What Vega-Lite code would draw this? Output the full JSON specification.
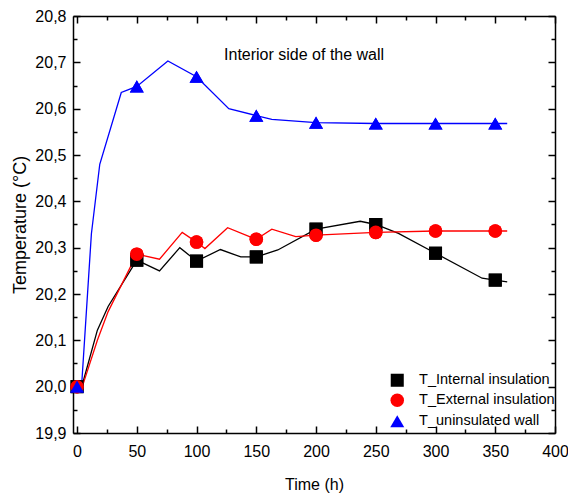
{
  "$schema": "https://vega.github.io/schema/vega-lite/v6.json",
  "width": 482,
  "height": 417,
  "autosize": {"type": "none"},
  "padding": {"left": 73, "top": 16, "right": 13, "bottom": 61},
  "background": "white",
  "config": {
    "view": {"stroke": null},
    "font": "Liberation Sans",
    "axis": {
      "grid": false,
      "domainColor": "black",
      "domainWidth": 1.5,
      "tickColor": "black",
      "tickWidth": 1.5,
      "labelColor": "black",
      "labelFont": "Liberation Sans",
      "labelFontSize": 16,
      "titleFont": "Liberation Sans",
      "titleFontSize": 16,
      "titleFontWeight": "normal",
      "titleColor": "black"
    },
    "legend": {
      "orient": "none",
      "legendX": 317,
      "legendY": 357,
      "symbolSize": 196,
      "symbolStrokeWidth": 0,
      "labelFont": "Liberation Sans",
      "labelFontSize": 14.5,
      "labelColor": "black",
      "labelOffset": 14.6,
      "rowPadding": 5
    }
  },
  "datasets": {
    "series": [
      {"series": "T_Internal insulation", "time": 0, "temp": 20.0, "marker": true},
      {"series": "T_Internal insulation", "time": 5, "temp": 20.01, "marker": false},
      {"series": "T_Internal insulation", "time": 17, "temp": 20.122, "marker": false},
      {"series": "T_Internal insulation", "time": 26, "temp": 20.173, "marker": false},
      {"series": "T_Internal insulation", "time": 50, "temp": 20.273, "marker": true},
      {"series": "T_Internal insulation", "time": 69, "temp": 20.25, "marker": false},
      {"series": "T_Internal insulation", "time": 86, "temp": 20.3, "marker": false},
      {"series": "T_Internal insulation", "time": 100, "temp": 20.271, "marker": true},
      {"series": "T_Internal insulation", "time": 120, "temp": 20.296, "marker": false},
      {"series": "T_Internal insulation", "time": 137, "temp": 20.28, "marker": false},
      {"series": "T_Internal insulation", "time": 150, "temp": 20.28, "marker": true},
      {"series": "T_Internal insulation", "time": 168, "temp": 20.295, "marker": false},
      {"series": "T_Internal insulation", "time": 200, "temp": 20.34, "marker": true},
      {"series": "T_Internal insulation", "time": 237, "temp": 20.357, "marker": false},
      {"series": "T_Internal insulation", "time": 250, "temp": 20.35, "marker": true},
      {"series": "T_Internal insulation", "time": 269, "temp": 20.331, "marker": false},
      {"series": "T_Internal insulation", "time": 300, "temp": 20.288, "marker": true},
      {"series": "T_Internal insulation", "time": 339, "temp": 20.234, "marker": false},
      {"series": "T_Internal insulation", "time": 350, "temp": 20.23, "marker": true},
      {"series": "T_Internal insulation", "time": 360, "temp": 20.226, "marker": false},
      {"series": "T_External insulation", "time": 0, "temp": 20.0, "marker": true},
      {"series": "T_External insulation", "time": 5, "temp": 20.005, "marker": false},
      {"series": "T_External insulation", "time": 17, "temp": 20.1, "marker": false},
      {"series": "T_External insulation", "time": 26, "temp": 20.162, "marker": false},
      {"series": "T_External insulation", "time": 50, "temp": 20.286, "marker": true},
      {"series": "T_External insulation", "time": 69, "temp": 20.275, "marker": false},
      {"series": "T_External insulation", "time": 88, "temp": 20.333, "marker": false},
      {"series": "T_External insulation", "time": 100, "temp": 20.312, "marker": true},
      {"series": "T_External insulation", "time": 107, "temp": 20.298, "marker": false},
      {"series": "T_External insulation", "time": 126, "temp": 20.343, "marker": false},
      {"series": "T_External insulation", "time": 150, "temp": 20.318, "marker": true},
      {"series": "T_External insulation", "time": 163, "temp": 20.34, "marker": false},
      {"series": "T_External insulation", "time": 183, "temp": 20.324, "marker": false},
      {"series": "T_External insulation", "time": 200, "temp": 20.327, "marker": true},
      {"series": "T_External insulation", "time": 250, "temp": 20.333, "marker": true},
      {"series": "T_External insulation", "time": 300, "temp": 20.336, "marker": true},
      {"series": "T_External insulation", "time": 350, "temp": 20.336, "marker": true},
      {"series": "T_External insulation", "time": 360, "temp": 20.336, "marker": false},
      {"series": "T_uninsulated wall", "time": 0, "temp": 20.0, "marker": true},
      {"series": "T_uninsulated wall", "time": 4, "temp": 20.01, "marker": false},
      {"series": "T_uninsulated wall", "time": 12, "temp": 20.33, "marker": false},
      {"series": "T_uninsulated wall", "time": 19, "temp": 20.48, "marker": false},
      {"series": "T_uninsulated wall", "time": 37, "temp": 20.635, "marker": false},
      {"series": "T_uninsulated wall", "time": 42, "temp": 20.64, "marker": false},
      {"series": "T_uninsulated wall", "time": 50, "temp": 20.648, "marker": true},
      {"series": "T_uninsulated wall", "time": 76, "temp": 20.703, "marker": false},
      {"series": "T_uninsulated wall", "time": 100, "temp": 20.669, "marker": true},
      {"series": "T_uninsulated wall", "time": 127, "temp": 20.6, "marker": false},
      {"series": "T_uninsulated wall", "time": 150, "temp": 20.585, "marker": true},
      {"series": "T_uninsulated wall", "time": 163, "temp": 20.577, "marker": false},
      {"series": "T_uninsulated wall", "time": 200, "temp": 20.57, "marker": true},
      {"series": "T_uninsulated wall", "time": 250, "temp": 20.568, "marker": true},
      {"series": "T_uninsulated wall", "time": 300, "temp": 20.568, "marker": true},
      {"series": "T_uninsulated wall", "time": 350, "temp": 20.568, "marker": true},
      {"series": "T_uninsulated wall", "time": 360, "temp": 20.568, "marker": false}
    ],
    "note": [{"label": "Interior side of the wall"}]
  },
  "layer": [
    {
      "data": {"name": "series"},
      "transform": [{"filter": "datum.marker"}],
      "mark": {"type": "point", "filled": true, "opacity": 1},
      "encoding": {
        "x": {
          "field": "time", "type": "quantitative",
          "scale": {"domain": [-3.4, 400], "nice": false, "zero": false},
          "axis": {
            "orient": "top",
            "title": null,
            "labels": false,
            "values": [0, 25, 50, 75, 100, 125, 150, 175, 200, 225, 250, 275, 300, 325, 350, 375, 400],
            "tickSize": {"condition": {"test": "datum.value % 50 == 0", "value": -7}, "value": -4}
          }
        },
        "y": {
          "field": "temp", "type": "quantitative",
          "scale": {"domain": [19.9, 20.8], "nice": false, "zero": false},
          "axis": {
            "orient": "right",
            "title": null,
            "labels": false,
            "values": [19.9, 19.95, 20.0, 20.05, 20.1, 20.15, 20.2, 20.25, 20.3, 20.35, 20.4, 20.45, 20.5, 20.55, 20.6, 20.65, 20.7, 20.75, 20.8],
            "tickSize": {"condition": {"test": "round(datum.value * 20) % 2 == 0", "value": -7}, "value": -4}
          }
        },
        "color": {
          "field": "series", "type": "nominal",
          "scale": {"domain": ["T_Internal insulation", "T_External insulation", "T_uninsulated wall"], "range": ["#000000", "#ff0000", "#0000ff"]},
          "legend": {
            "title": null,
            "encode": {
              "symbols": {
                "size": {"value": 196},
                "strokeWidth": {"value": 0},
                "shape": {"value": {"expr": "datum.value === 'T_Internal insulation' ? 'M-2.33,-0.1H2.33V0.1H-2.33Z M-0.7,-0.7H0.7V0.7H-0.7Z' : datum.value === 'T_External insulation' ? 'M-2.33,-0.1H2.33V0.1H-2.33Z M-0.85,0A0.85,0.85 0 1,1 0.85,0A0.85,0.85 0 1,1 -0.85,0Z' : 'M-2.33,-0.1H2.33V0.1H-2.33Z M0,-0.85L1,0.75L-1,0.75Z'"}}
              }
            }
          }
        },
        "shape": {
          "field": "series", "type": "nominal",
          "scale": {"domain": ["T_Internal insulation", "T_External insulation", "T_uninsulated wall"], "range": ["square", "circle", "triangle-up"]}
        },
        "size": {
          "field": "series", "type": "nominal",
          "scale": {"domain": ["T_Internal insulation", "T_External insulation", "T_uninsulated wall"], "range": [170, 196, 256]}
        }
      }
    },
    {
      "data": {"name": "series"},
      "mark": {"type": "line", "strokeWidth": 1.3, "interpolate": "linear"},
      "encoding": {
        "x": {
          "field": "time", "type": "quantitative",
          "axis": {
            "orient": "bottom",
            "title": "Time (h)",
            "values": [0, 25, 50, 75, 100, 125, 150, 175, 200, 225, 250, 275, 300, 325, 350, 375, 400],
            "labelExpr": "datum.value % 50 == 0 ? datum.label : ''",
            "tickSize": {"condition": {"test": "datum.value % 50 == 0", "value": -7}, "value": -4},
            "labelPadding": 17,
            "labelFlush": false,
            "titleY": 56,
            "titleBaseline": "alphabetic"
          }
        },
        "y": {
          "field": "temp", "type": "quantitative",
          "axis": {
            "orient": "left",
            "title": "Temperature (°C)",
            "titleFontSize": 18,
            "values": [19.9, 19.95, 20.0, 20.05, 20.1, 20.15, 20.2, 20.25, 20.3, 20.35, 20.4, 20.45, 20.5, 20.55, 20.6, 20.65, 20.7, 20.75, 20.8],
            "labelExpr": "round(datum.value * 20) % 2 == 0 ? replace(format(datum.value, '.1f'), '.', ',') : ''",
            "tickSize": {"condition": {"test": "round(datum.value * 20) % 2 == 0", "value": -7}, "value": -4},
            "labelPadding": 14,
            "labelFlush": false,
            "titleX": -48,
            "titleBaseline": "alphabetic"
          }
        },
        "color": {
          "field": "series", "type": "nominal",
          "legend": {"title": null}
        }
      }
    },
    {
      "data": {"name": "series"},
      "transform": [{"filter": "datum.marker"}],
      "mark": {"type": "point", "filled": true, "opacity": 1},
      "encoding": {
        "x": {"field": "time", "type": "quantitative", "axis": null},
        "y": {"field": "temp", "type": "quantitative", "axis": null},
        "color": {"field": "series", "type": "nominal", "legend": {"title": null}},
        "shape": {"field": "series", "type": "nominal"},
        "size": {"field": "series", "type": "nominal"}
      }
    },
    {
      "data": {"name": "note"},
      "mark": {"type": "text", "font": "Liberation Sans", "fontSize": 16, "color": "black", "align": "center", "baseline": "alphabetic"},
      "encoding": {
        "x": {"datum": 190, "type": "quantitative", "axis": null},
        "y": {"datum": 20.705, "type": "quantitative", "axis": null},
        "text": {"field": "label", "type": "nominal"}
      }
    }
  ],
  "resolve": {"axis": {"x": "independent", "y": "independent"}}
}
